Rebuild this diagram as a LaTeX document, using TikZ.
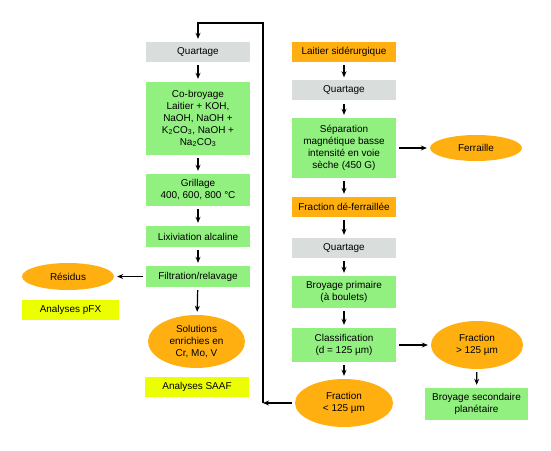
\documentclass[tikz,border=0pt]{standalone}
\usepackage{fontspec}
\setmainfont{Liberation Sans}
\usetikzlibrary{shapes.geometric,arrows.meta}
\definecolor{vert}{RGB}{146,240,128}
\definecolor{orange}{RGB}{255,176,16}
\definecolor{gris}{RGB}{217,222,220}
\definecolor{jaune}{RGB}{236,255,0}
\begin{document}
\begin{tikzpicture}[>={Stealth[length=6pt,width=5pt]},x=1bp,y=-1bp,
	every node/.style={font=\fontsize{10}{12}\selectfont,align=center,inner sep=0pt},
	boite/.style={rectangle,minimum width=104bp,minimum height=#1},
	etape/.style={boite=#1,fill=vert},
	quart/.style={boite=20bp,fill=gris},
	produit/.style={boite=20bp,fill=orange},
	analyse/.style={rectangle,fill=jaune,minimum height=20bp},
	fraction/.style={ellipse,fill=orange,minimum width=92bp,minimum height=#1},
	fleche/.style={->,line width=1.2pt,shorten >=3pt,shorten <=3pt}]
	\useasboundingbox (0,0) rectangle (551,451);
	% colonne de droite
	\node[produit] (lait) at (344,52) {Laitier sidérurgique};
	\node[quart] (qR) at (344,90.5) {Quartage};
	\node[etape=60bp] (sep) at (344,148) {Séparation\\magnétique basse\\intensité en voie\\sèche (450 G)};
	\node[fraction=26bp] (fer) at (476,148) {Ferraille};
	\node[produit] (frac) at (344,207) {Fraction dé-ferraillée};
	\node[quart] (qRb) at (344,248) {Quartage};
	\node[etape=32bp] (broy) at (344,292) {Broyage primaire\\(à boulets)};
	\node[etape=34bp] (cla) at (344,345) {Classification\\(d = 125 µm)};
	\node[fraction=48bp] (fsup) at (477,345) {Fraction\\> 125 µm};
	\node[fraction=48bp,minimum width=98bp] (finf) at (344,403) {Fraction\\< 125 µm};
	\node[etape=32bp,minimum width=103bp] (bsec) at (476.5,404) {Broyage secondaire\\planétaire};
	% colonne de gauche
	\node[quart] (qL) at (198,52) {Quartage};
	\node[etape=73bp] (cob) at (198,118.5) {Co-broyage\\Laitier + KOH,\\NaOH, NaOH +\\K\textsubscript{2}CO\textsubscript{3}, NaOH +\\Na\textsubscript{2}CO\textsubscript{3}};
	\node[etape=32bp] (gril) at (198,190) {Grillage\\400, 600, 800 °C};
	\node[etape=21bp] (lix) at (198,236.5) {Lixiviation alcaline};
	\node[etape=21bp] (filt) at (198,276.5) {Filtration/relavage};
	\node[fraction=27bp] (res) at (68,276.5) {Résidus};
	\node[analyse,minimum width=97bp] (pfx) at (70.5,310) {Analyses pFX};
	\node[fraction=53bp,minimum width=97bp] (sol) at (196.5,341.5) {Solutions\\enrichies en\\Cr, Mo, V};
	\node[analyse,minimum width=104bp] (saaf) at (197,386.5) {Analyses SAAF};
	% liaisons
	\draw[fleche] (lait) -- (qR);
	\draw[fleche] (qR) -- (sep);
	\draw[fleche] (sep) -- (fer);
	\draw[fleche] (sep) -- (frac);
	\draw[fleche] (frac) -- (qRb);
	\draw[fleche] (qRb) -- (broy);
	\draw[fleche] (broy) -- (cla);
	\draw[fleche] (cla) -- (fsup);
	\draw[fleche] (cla) -- (finf);
	\draw[fleche] (fsup) -- (bsec);
	\coordinate (bas) at (263,403);
	\coordinate (haut) at (263,23);
	\draw[fleche,shorten >=0pt] (finf) -- (bas);
	\draw[fleche,shorten <=0pt] (bas) -- (haut) -| (qL);
	\draw[fleche] (qL) -- (cob);
	\draw[fleche] (cob) -- (gril);
	\draw[fleche] (gril) -- (lix);
	\draw[fleche] (lix) -- (filt);
	\draw[fleche] (filt) -- (res);
	\draw[fleche] (filt) -- (sol);
\end{tikzpicture}
\end{document}
